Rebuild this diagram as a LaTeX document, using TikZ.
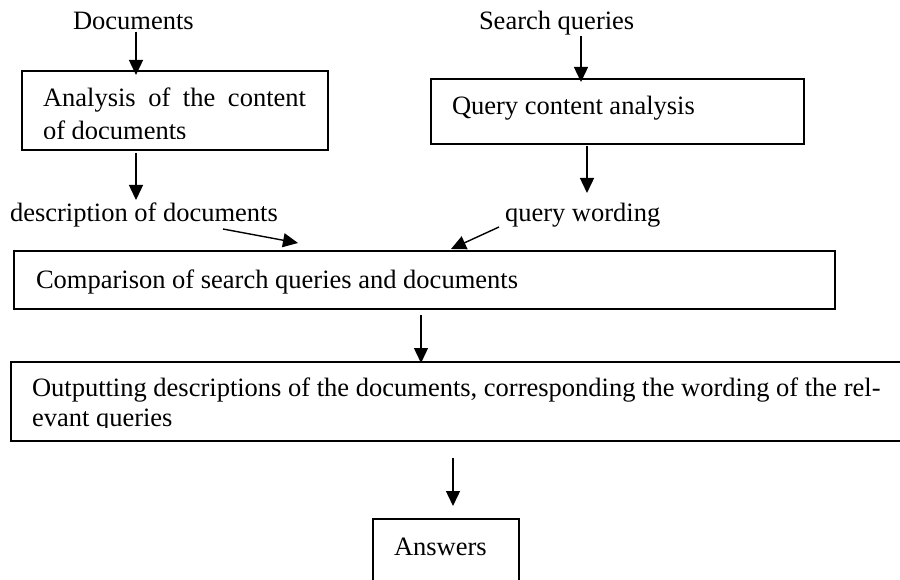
\documentclass[tikz,border=0pt]{standalone}
\usepackage{fontspec}
\setmainfont{Liberation Serif}
\usetikzlibrary{arrows.meta}
\begin{document}
\begin{tikzpicture}[x=1pt,y=-1pt,
  every node/.style={inner sep=0pt, outer sep=0pt, font=\fontsize{26.5}{33}\selectfont},
  lbl/.style={anchor=base west},
  boxst/.style={draw, line width=1.4pt, anchor=north west, rectangle},
  arr/.style={line width=1.4pt, -{Triangle[length=15pt,width=14pt]}}]
\useasboundingbox (0,0) rectangle (900,580);

% top labels
\node[lbl] (docs) at (73,30) {Documents};
\node[lbl] (sq) at (479,30) {Search queries};

% boxes
\node[boxst, minimum width=306pt, minimum height=79pt] (box1) at (22,71) {};
\node[boxst, minimum width=373pt, minimum height=65pt] (box2) at (431,79) {};
\node[boxst, minimum width=821pt, minimum height=58pt] (cmp) at (14,251) {};
\node[boxst, minimum width=900pt, minimum height=79pt] (out) at (11,362) {};
\node[boxst, minimum width=146pt, minimum height=80pt] (ans) at (373,519) {};

% box texts
\node[lbl] (t1a) at (43,107) {\makebox[263pt][s]{Analysis of the content}};
\begin{scope}
  \clip (22,71) rectangle (328,138.5);
  \node[lbl] (t1b) at (43,140) {of documents};
\end{scope}
\node[lbl] (t2) at (452,115) {Query content analysis};
\node[lbl] (dd) at (10,222) {description of documents};
\node[lbl] (qw) at (505,222) {query wording};
\node[lbl] (t3) at (36,289) {Comparison of search queries and documents};
\node[lbl] (t4a) at (32,396) {Outputting descriptions of the documents, corresponding the wording of the rel-};
\begin{scope}
  \clip (11,362) rectangle (900,427);
  \node[lbl] (t4b) at (32,426) {evant queries};
\end{scope}
\node[lbl] (t5) at (394,555) {Answers};

% arrow coordinates
\coordinate (a1s) at (136,32);   \coordinate (a1e) at (136,75);
\coordinate (a2s) at (136,153);  \coordinate (a2e) at (136,200);
\coordinate (a3s) at (581,36);   \coordinate (a3e) at (581,82);
\coordinate (a4s) at (587,146);  \coordinate (a4e) at (587,193);
\coordinate (a5s) at (223,229);  \coordinate (a5e) at (298,243);
\coordinate (a6s) at (499,227);  \coordinate (a6e) at (451,249);
\coordinate (a7s) at (421,315);  \coordinate (a7e) at (421,363);
\coordinate (a8s) at (453,458);  \coordinate (a8e) at (453,506);

\draw[arr] (a1s) -- (a1e);
\draw[arr] (a2s) -- (a2e);
\draw[arr] (a3s) -- (a3e);
\draw[arr] (a4s) -- (a4e);
\draw[arr] (a5s) -- (a5e);
\draw[arr] (a6s) -- (a6e);
\draw[arr] (a7s) -- (a7e);
\draw[arr] (a8s) -- (a8e);
\end{tikzpicture}
\end{document}
